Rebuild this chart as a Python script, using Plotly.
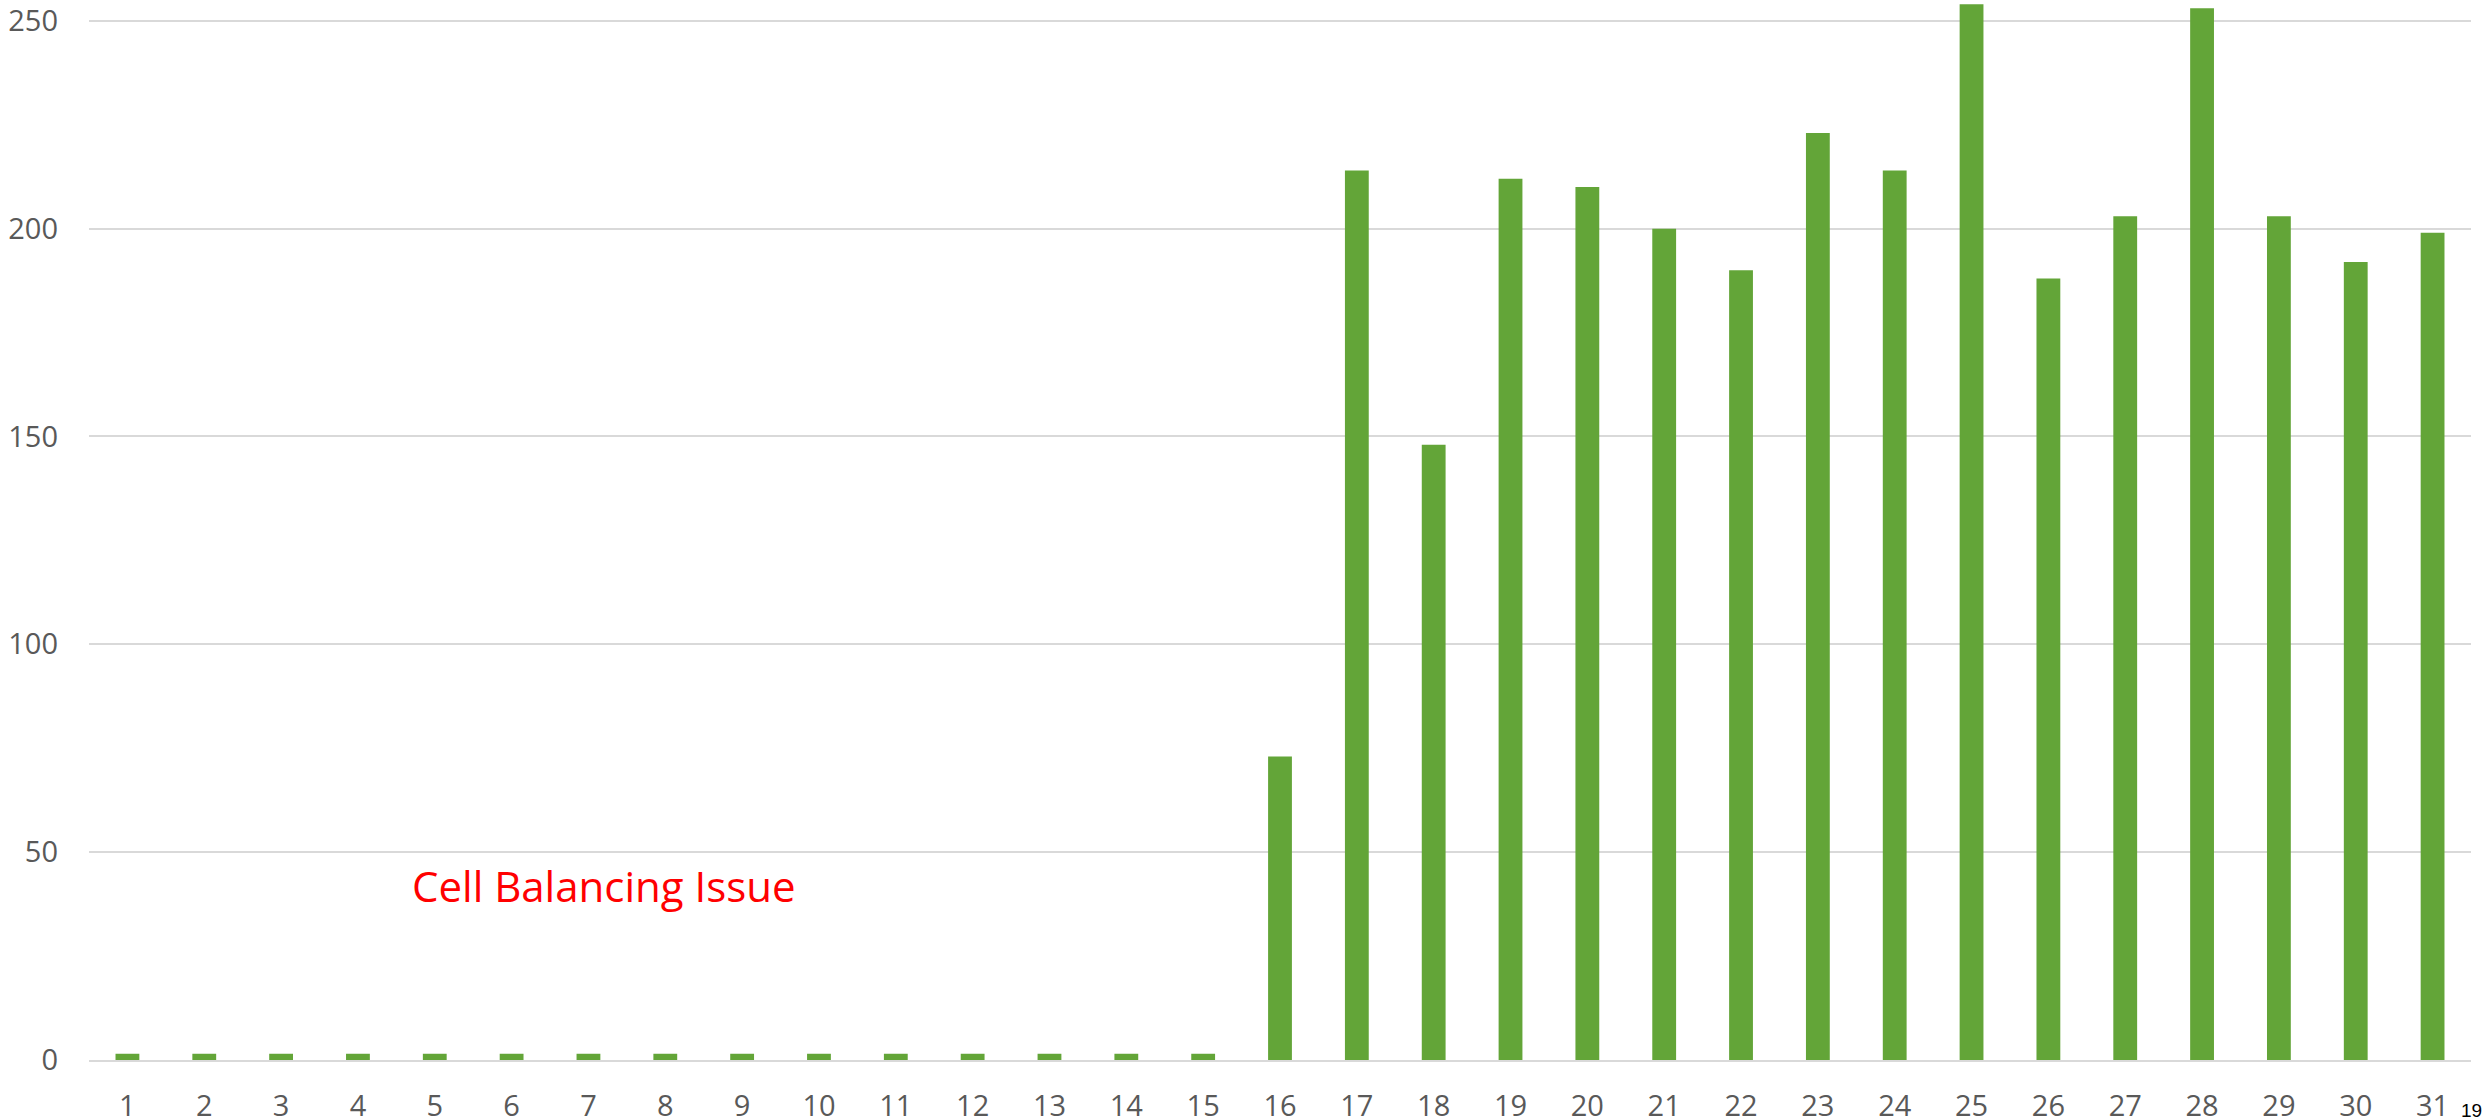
import plotly.graph_objects as go

# Data
cells = list(range(1, 32))
values = [1.5] * 15 + [73, 214, 148, 212, 210, 200, 190, 223, 214, 254,
                       188, 203, 253, 203, 192, 199]
tick_vals = [0, 50, 100, 150, 200, 250]
note_text = 'Cell Balancing Issue'
page_no = '19'

bar_color = '#63A538'
grid_color = '#D9D9D9'
label_color = '#595959'
font_name = 'Open Sans'

fig = go.Figure()
fig.add_trace(go.Bar(x=cells, y=values, marker=dict(color=bar_color, line=dict(width=0)),
                     showlegend=False))

fig.update_layout(
    width=2489, height=1119,
    margin=dict(l=89, r=18, t=0, b=59),
    paper_bgcolor='white', plot_bgcolor='white',
    bargap=0.69,
    font=dict(family=font_name, color=label_color, size=29),
)

fig.update_xaxes(
    range=[0.5, 31.5], tickmode='array', tickvals=cells, ticktext=[str(c) for c in cells],
    showgrid=False, zeroline=False, showline=True, linecolor=grid_color, linewidth=2,
    ticks='', ticklabelstandoff=19, tickfont=dict(size=29, color=label_color),
    ticklabeloverflow='allow', automargin=False,
)
# top label sits right at the page edge, so don't let plotly hide it
fig.update_yaxes(
    range=[0, 255], tickmode='array', tickvals=tick_vals,
    showgrid=True, gridcolor=grid_color, gridwidth=2, zeroline=False, showline=False,
    ticks='', ticklabelstandoff=30, tickfont=dict(size=29, color=label_color),
    ticklabeloverflow='allow', automargin=False,
)

# red note inside the plot
fig.add_annotation(x=7.2, y=42, xref='x', yref='y', text=note_text, showarrow=False,
                   font=dict(family=font_name, size=42, color='#FF0000'))

# slide number in the corner, below the axis
fig.add_annotation(x=(2471 - 89) / (2489 - 89 - 18), y=-(1110 - 1060) / 1060,
                   xref='paper', yref='paper', xanchor='center', yanchor='middle',
                   text=page_no, showarrow=False,
                   font=dict(family='Liberation Sans', size=19, color='#000000'))

# page has a default 8px body margin; drop it so the figure fills the window
fig.write_html("out.html", config={'displayModeBar': False},
               post_script="document.body.style.margin='0';")
